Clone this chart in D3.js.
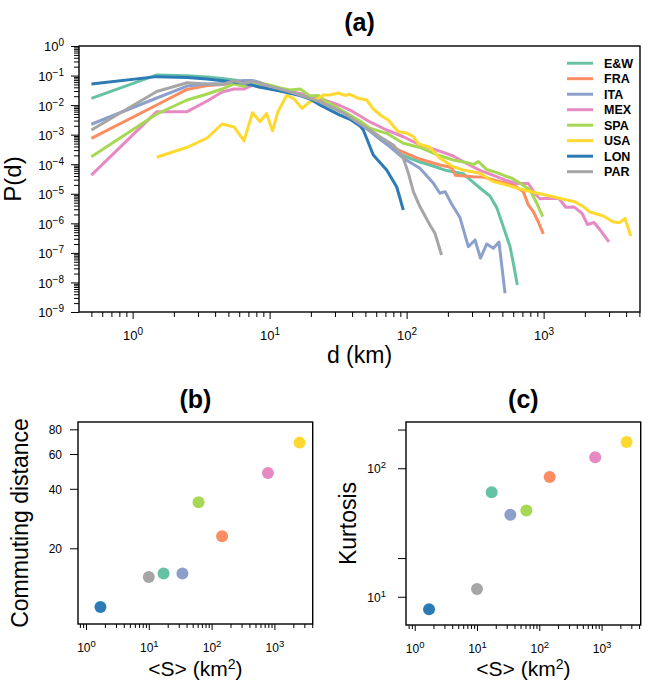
<!DOCTYPE html>
<html><head><meta charset="utf-8">
<script src="https://cdn.jsdelivr.net/npm/d3@7"></script>
<style>
body{margin:0;background:#fff}
svg{display:block}
text{font-family:"Liberation Sans",Arial,Helvetica,sans-serif;fill:#000}
</style>
</head><body>
<svg id="chart" width="654" height="687"></svg>
<script>
// ---------- DATA ----------
const seriesNames = ["E&W","FRA","ITA","MEX","SPA","USA","LON","PAR"];
const seriesColors = ["#66c2a5","#fc8d62","#8da0cb","#e78ac3","#a6d854","#ffd92f","#2c7bb6","#a6a6a6"];

// Panel (a): distance bins d (km) and probability P(d) per series
const eawD = [0.5,1.5,2.5,3.5,4.5,5.5,6.5,7.5,8.5,10,11.9,14.1,16.7,19.7,23.3,27.6,32.6,38.6,45.7,54,63.9,75.6,89.5,106,125,148,196,259,299,343,406,455,508,569,601,643];
const eawP = [0.017,0.105,0.098,0.089,0.079,0.071,0.063,0.056,0.048,0.039,0.0325,0.027,0.022,0.0174,0.0128,0.009,0.0063,0.0043,0.0023,0.00133,7.1e-4,4.1e-4,2.2e-4,1.58e-4,1.19e-4,9.4e-5,6.1e-5,4.8e-5,2.7e-5,1.57e-5,8.4e-6,3.4e-6,7.7e-7,1.62e-7,4.5e-8,8.2e-9];

const fraD = [0.5,1.5,2.5,3.5,4.5,5.5,6.5,7.5,8.5,10,11.9,14.1,16.7,19.7,23.3,27.6,32.6,38.6,45.7,54,63.9,75.6,89.5,106,125,148,175,198,215,227,307,363,455,601,711,773,841,915,995];
const fraP = [7.5e-4,0.0101,0.034,0.046,0.05,0.056,0.061,0.063,0.056,0.044,0.035,0.029,0.023,0.018,0.0138,0.0097,0.0066,0.0045,0.0026,0.00144,7.1e-4,4.3e-4,2.9e-4,2.05e-4,1.5e-4,1.19e-4,9.4e-5,8.4e-5,7.3e-5,4.2e-5,3.8e-5,3.7e-5,2.7e-5,2.0e-5,1.18e-5,4.2e-6,2.5e-6,1.11e-6,4.4e-7];

const itaD = [0.5,1.5,2.5,3.5,4.5,5.5,6.5,7.5,8.5,10,11.9,14.1,16.7,19.7,23.3,27.6,32.6,38.6,45.7,54,63.9,75.6,94.6,125,157,175,191,213,245,282,316,346,384,430,472,523];
const itaP = [2.25e-3,0.0174,0.044,0.052,0.054,0.061,0.068,0.068,0.058,0.044,0.037,0.029,0.023,0.0174,0.0128,0.009,0.0063,0.0043,0.0024,0.00133,7.1e-4,3.9e-4,1.6e-4,7.3e-5,2.26e-5,1.04e-5,1.18e-5,4.5e-6,1.58e-6,1.62e-7,2.74e-7,6.6e-8,2.0e-7,1.43e-7,2.34e-7,4.3e-9];

const mexD = [0.5,1.5,2.5,3.5,4.5,5.5,6.5,7.5,8.5,10,11.9,14.1,16.7,19.7,23.3,27.6,32.6,38.6,45.7,54,71.5,94.6,125,166,219,272,343,430,538,636,773,880,942,1114,1295,1452,1667,1906,2090,2333,2624,3000];
const mexP = [4.3e-5,6.0e-3,6.0e-3,0.0138,0.0278,0.035,0.035,0.048,0.041,0.038,0.034,0.029,0.025,0.0204,0.0168,0.0128,0.0097,0.0068,0.0043,0.0027,0.00144,8.5e-4,4.5e-4,3.0e-4,1.9e-4,1.08e-4,6.2e-5,4.2e-5,2.8e-5,2.23e-5,2.23e-5,9.1e-6,6.8e-6,7.0e-6,6.9e-6,3.5e-6,3.6e-6,2.2e-6,9.1e-7,1.07e-6,5.5e-7,2.34e-7];

const spaD = [0.5,1.5,2.5,3.5,4.5,5.5,6.5,7.5,8.5,10,11.9,14.1,16.7,19.7,22.7,26.1,29.2,36.6,45.7,54,71.5,94.6,125,166,219,272,307,334,384,455,523,585,673,796,891,985];
const spaP = [1.8e-4,5.0e-3,0.0149,0.0238,0.035,0.052,0.043,0.058,0.054,0.048,0.038,0.0325,0.035,0.0204,0.0212,0.0128,0.0097,0.0053,0.0029,0.00165,1.11e-3,5.1e-4,3.7e-4,2.1e-4,1.39e-4,1.14e-4,9.8e-5,1.24e-4,6.6e-5,5.2e-5,4.0e-5,3.4e-5,2.26e-5,1.34e-5,4.8e-6,1.68e-6];

const usaD = [1.5,2.5,3.5,4.5,5.5,6.5,7.5,8.5,9.5,10.5,11.5,13.3,14.9,17.2,19.7,22.2,24.7,27.6,31.7,35.5,38.6,44.4,51.1,57.1,65.8,73.5,80,87,100,112,122,148,175,219,259,343,430,538,673,891,1178,1475,1694,1950,2182,2729,3228,3611,3928,4324];
const usaP = [1.72e-4,3.74e-4,7.72e-4,2.30e-3,1.82e-3,6.21e-4,5.54e-3,2.75e-3,5.13e-3,1.36e-3,5.99e-3,0.0212,0.017,7.8e-3,0.013,0.0161,0.022,0.022,0.0257,0.0212,0.0232,0.017,0.0149,7.39e-3,4.28e-3,3.14e-3,1.97e-3,1.26e-3,1.14e-3,8.55e-4,4.84e-4,3.74e-4,1.59e-4,8.26e-5,6.38e-5,4.93e-5,2.57e-5,1.99e-5,1.45e-5,1.06e-5,7.98e-6,6.17e-6,5.41e-6,3.66e-6,2.42e-6,1.77e-6,1.11e-6,1.07e-6,1.48e-6,3.73e-7];

const lonD = [0.5,1.5,2.5,3.5,4.5,5.5,6.5,7.5,8.5,10,11.9,14.1,16.7,19.7,23.3,27.6,32.6,38.6,45.7,48.3,57.1,71.5,84.7,94.6];
const lonP = [0.052,0.092,0.086,0.077,0.067,0.061,0.055,0.047,0.040,0.035,0.030,0.025,0.021,0.0161,0.0101,0.0068,0.0046,0.0033,0.00197,0.00144,2.05e-4,6.4e-5,1.7e-5,2.83e-6];

const parD = [0.5,1.5,2.5,3.5,4.5,5.5,6.5,7.5,8.5,10,11.9,14.1,16.7,19.7,23.3,27.6,32.6,36.6,45.7,54,63.9,80,89.5,94.6,103,112,125,148,161,180];
const parP = [0.00144,0.029,0.057,0.052,0.050,0.067,0.054,0.063,0.056,0.043,0.035,0.028,0.022,0.0168,0.0128,0.009,0.0063,0.0046,0.0023,0.00144,8.5e-4,4.5e-4,2.34e-4,1.6e-4,5.0e-5,1.18e-5,3.7e-6,8.8e-7,4.6e-7,8.5e-8];

// Panels (b) and (c): per series (same order as seriesNames)
const meanArea   = [17.2,147,34.3,790,62,2520,1.7,10];      // <S> (km^2)
const commuteDist = [14.9,23.0,14.9,48.1,34.2,68.5,10.1,14.3];
const kurtosis   = [65,85.5,43.4,122,46.9,160,8.0,11.5];

// Tick values
const aXMajor = [1,10,100,1000];
const aYMajor = [1,1e-1,1e-2,1e-3,1e-4,1e-5,1e-6,1e-7,1e-8,1e-9];
const bcXMajor = [1,10,100,1000];
const bYTicks = [20,40,60,80];
const cYMajor = [10,100];
const cYMinor = [20,200];

// ---------- BUILD ----------
const distD = [eawD,fraD,itaD,mexD,spaD,usaD,lonD,parD];
const distP = [eawP,fraP,itaP,mexP,spaP,usaP,lonP,parP];
const series = seriesNames.map((n,i)=>({name:n,color:seriesColors[i],
  pts:distD[i].map((d,j)=>({d:d,p:distP[i][j]}))}));

const svg = d3.select("#chart");
const FONT = '"Liberation Sans",Arial,Helvetica,sans-serif';

function minorTicks(lo,hi){
  const out=[];
  for(let k=-10;k<=5;k++){
    for(let m=2;m<=9;m++){
      const v=m*Math.pow(10,k);
      if(v>=lo*0.9999 && v<=hi*1.0001) out.push(v);
    }
  }
  return out;
}
function expLabel(sel,fs,sfs){
  sel.each(function(v){
    const t=d3.select(this);
    const e=Math.round(Math.log10(v));
    t.text(null);
    t.append("tspan").text("10");
    t.append("tspan").attr("dy","-0.5em").attr("font-size",sfs+"px").text(e<0?"\u2212"+(-e):String(e));
  });
}
function styleAxis(g,fs){
  g.attr("font-family",FONT).attr("font-size",fs);
  g.select(".domain").remove();
  g.selectAll(".tick line").attr("stroke","#000").attr("stroke-width",1);
}

// ===== Panel (a) =====
const aL=79,aR=640,aT=46,aB=312;
const ax=d3.scaleLog().domain([0.406,5053]).range([aL,aR]);
const ay=d3.scaleLog().domain([1,1e-9]).range([aT,aB]);

// x axis
svg.append("g").attr("transform",`translate(0,${aB})`)
  .call(d3.axisBottom(ax).tickValues(minorTicks(0.406,5053)).tickSize(5).tickFormat(""))
  .call(g=>styleAxis(g,13));
const axg=svg.append("g").attr("transform",`translate(0,${aB})`)
  .call(d3.axisBottom(ax).tickValues(aXMajor).tickSize(7).tickFormat(d=>d))
  .call(g=>styleAxis(g,13));
axg.selectAll(".tick text").attr("y",28).attr("dy",null).call(expLabel,13,10);

// y axis
svg.append("g").attr("transform",`translate(${aL},0)`)
  .call(d3.axisLeft(ay).tickValues(minorTicks(1e-9,1)).tickSize(5).tickFormat(""))
  .call(g=>styleAxis(g,13));
const ayg=svg.append("g").attr("transform",`translate(${aL},0)`)
  .call(d3.axisLeft(ay).tickValues(aYMajor).tickSize(8).tickPadding(7).tickFormat(d=>d))
  .call(g=>styleAxis(g,13));
ayg.selectAll(".tick text").attr("dy","0.38em").call(expLabel,13,10);

// lines
svg.append("clipPath").attr("id","clipA").append("rect")
  .attr("x",aL).attr("y",aT).attr("width",aR-aL).attr("height",aB-aT);
const line=d3.line().x(d=>ax(d.d)).y(d=>ay(d.p));
svg.append("g").attr("clip-path","url(#clipA)")
  .selectAll("path").data(series).join("path")
  .attr("d",s=>line(s.pts)).attr("fill","none")
  .attr("stroke",s=>s.color).attr("stroke-width",3)
  .attr("stroke-linejoin","round").attr("stroke-linecap","butt");

svg.append("rect").attr("x",aL).attr("y",aT).attr("width",aR-aL).attr("height",aB-aT)
  .attr("fill","none").attr("stroke","#000").attr("stroke-width",1.4);

// legend
const leg=svg.append("g").attr("font-family",FONT);
series.forEach((s,i)=>{
  const y=63.2+i*15.5;
  leg.append("line").attr("x1",567).attr("x2",593).attr("y1",y).attr("y2",y)
    .attr("stroke",s.color).attr("stroke-width",3);
  leg.append("text").attr("x",604).attr("y",y+4.5).attr("font-size","12.5px")
    .attr("font-weight","bold").text(s.name);
});

svg.append("text").attr("x",(aL+aR)/2).attr("y",31).attr("text-anchor","middle")
  .attr("font-size","25px").attr("font-weight","bold").text("(a)");
svg.append("text").attr("x",(aL+aR)/2).attr("y",363).attr("text-anchor","middle")
  .attr("font-size","23px").text("d (km)");
svg.append("text").attr("transform",`translate(21,${(aT+aB)/2}) rotate(-90)`)
  .attr("text-anchor","middle").attr("font-size","24px").text("P(d)");

// ===== Panels (b) and (c) =====
function scatterPanel(opt){
  const {L,R,T,B,xDom,yDom,yVals,title,ylab,ylabX,yMajor,yMinor,yLabelFn,yPad}=opt;
  const x=d3.scaleLog().domain(xDom).range([L,R]);
  const y=d3.scaleLog().domain(yDom).range([B,T]);
  svg.append("g").attr("transform",`translate(0,${B})`)
    .call(d3.axisBottom(x).tickValues(minorTicks(xDom[0],xDom[1])).tickSize(4).tickFormat(""))
    .call(g=>styleAxis(g,12));
  const xg=svg.append("g").attr("transform",`translate(0,${B})`)
    .call(d3.axisBottom(x).tickValues(bcXMajor).tickSize(6).tickFormat(d=>d))
    .call(g=>styleAxis(g,12));
  xg.selectAll(".tick text").attr("y",28).attr("dy",null).call(expLabel,12,9.5);
  if(yMinor){
    svg.append("g").attr("transform",`translate(${L},0)`)
      .call(d3.axisLeft(y).tickValues(yMinor).tickSize(8).tickFormat(""))
      .call(g=>styleAxis(g,12));
  }
  const yg=svg.append("g").attr("transform",`translate(${L},0)`)
    .call(d3.axisLeft(y).tickValues(yMajor).tickSize(8).tickPadding(yPad).tickFormat(d=>d))
    .call(g=>styleAxis(g,12));
  const yt=yg.selectAll(".tick text").attr("dy","0.36em");
  if(yLabelFn==="exp") yt.call(expLabel,12,9.5);

  svg.append("g").selectAll("circle").data(seriesNames.map((n,i)=>i)).join("circle")
    .attr("cx",i=>x(meanArea[i])).attr("cy",i=>y(yVals[i])).attr("r",6)
    .attr("fill",i=>seriesColors[i]);
  svg.append("rect").attr("x",L).attr("y",T).attr("width",R-L).attr("height",B-T)
    .attr("fill","none").attr("stroke","#000").attr("stroke-width",1.4);
  svg.append("text").attr("x",(L+R)/2).attr("y",408).attr("text-anchor","middle")
    .attr("font-size","25px").attr("font-weight","bold").text(title);
  const xl=svg.append("text").attr("x",(L+R)/2).attr("y",676).attr("text-anchor","middle")
    .attr("font-size","21px");
  xl.append("tspan").text("<S> (km");
  xl.append("tspan").attr("dy","-0.5em").attr("font-size","14px").text("2");
  xl.append("tspan").attr("dy","0.35em").text(")");
  svg.append("text").attr("transform",`translate(${ylabX},${(T+B)/2}) rotate(-90)`)
    .attr("text-anchor","middle").attr("font-size","23px").text(ylab);
}

scatterPanel({L:78,R:312.7,T:422,B:624,xDom:[0.746,4074],yDom:[8.28,87.1],
  yVals:commuteDist,title:"(b)",ylab:"Commuting distance",ylabX:28,
  yMajor:bYTicks,yMinor:null,yLabelFn:"plain",yPad:8});
scatterPanel({L:406,R:640.7,T:422,B:625,xDom:[0.725,4244],yDom:[6.03,229],
  yVals:kurtosis,title:"(c)",ylab:"Kurtosis",ylabX:356,
  yMajor:cYMajor,yMinor:cYMinor,yLabelFn:"exp",yPad:12});
</script>
</body></html>
